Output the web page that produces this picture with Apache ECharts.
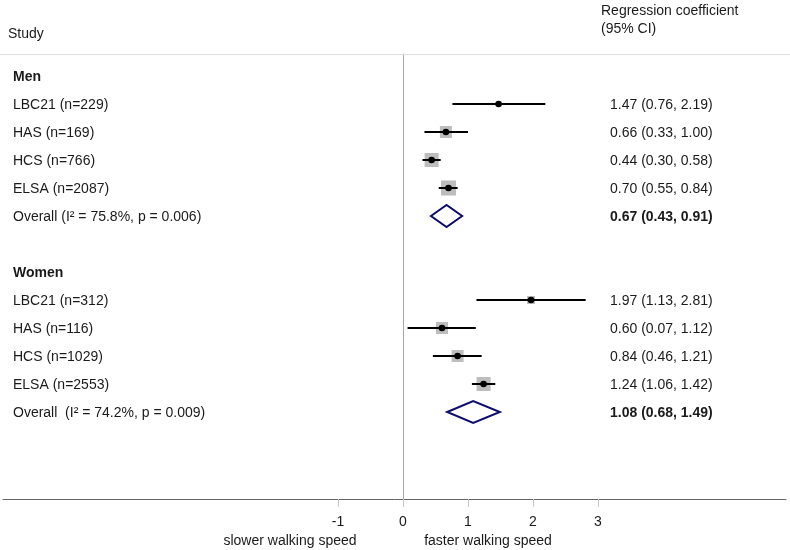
<!DOCTYPE html>
<html>
<head>
<meta charset="utf-8">
<script src="https://cdn.jsdelivr.net/npm/echarts@6/dist/echarts.min.js"></script>
<style>
html,body{margin:0;padding:0;background:#fff;}
#chart{width:790px;height:550px;}
</style>
</head>
<body>
<div id="chart"></div>
<script>
// ---- data ----
const groups = ['Men', 'Women'];
const menStudies = ['LBC21 (n=229)', 'HAS (n=169)', 'HCS (n=766)', 'ELSA (n=2087)'];
const menEst = [1.47, 0.66, 0.44, 0.70];
const menLo = [0.76, 0.33, 0.30, 0.55];
const menHi = [2.19, 1.00, 0.58, 0.84];
const menWeight = [3, 19, 26, 30];
const menOverallLabel = 'Overall (I\u00b2 = 75.8%, p = 0.006)';
const menOverall = [0.67, 0.43, 0.91];

const womenStudies = ['LBC21 (n=312)', 'HAS (n=116)', 'HCS (n=1029)', 'ELSA (n=2553)'];
const womenEst = [1.97, 0.60, 0.84, 1.24];
const womenLo = [1.13, 0.07, 0.46, 1.06];
const womenHi = [2.81, 1.12, 1.21, 1.42];
const womenWeight = [8.5, 19, 19, 26];
const womenOverallLabel = 'Overall  (I\u00b2 = 74.2%, p = 0.009)';
const womenOverall = [1.08, 0.68, 1.49];

const xTicks = [-1, 0, 1, 2, 3];

// ---- build rows ----
const studyData = [];   // [est, lo, hi, row, weight]
const overallData = []; // [est, lo, hi, row]
const textRows = [];    // {row, left, right, bold}
let row = 0;
function addGroup(name, studies, est, lo, hi, w, ovLabel, ov) {
  textRows.push({row: row, left: name, right: '', bold: true});
  row++;
  for (let i = 0; i < studies.length; i++) {
    studyData.push([est[i], lo[i], hi[i], row, w[i]]);
    textRows.push({row: row, left: studies[i],
      right: est[i].toFixed(2) + ' (' + lo[i].toFixed(2) + ', ' + hi[i].toFixed(2) + ')', bold: false});
    row++;
  }
  overallData.push([ov[0], ov[1], ov[2], row]);
  textRows.push({row: row, left: ovLabel,
    right: ov[0].toFixed(2) + ' (' + ov[1].toFixed(2) + ', ' + ov[2].toFixed(2) + ')', bold: 'right'});
  row += 2;
}
addGroup(groups[0], menStudies, menEst, menLo, menHi, menWeight, menOverallLabel, menOverall);
addGroup(groups[1], womenStudies, womenEst, womenLo, womenHi, womenWeight, womenOverallLabel, womenOverall);

const FONT = 'Liberation Sans, Arial, sans-serif';
const TXT = '#1a1a1a';
const chart = echarts.init(document.getElementById('chart'));

chart.setOption({
  animation: false,
  backgroundColor: '#ffffff',
  grid: {left: 3, right: 4, top: 54, bottom: 51},
  xAxis: {
    type: 'value',
    min: -400 / 65,
    max: 383 / 65,
    splitLine: {show: false},
    axisLine: {show: true, onZero: false, lineStyle: {color: '#666666', width: 1}},
    axisTick: {show: true, customValues: xTicks, length: 8, lineStyle: {color: '#c8c8c8'}},
    axisLabel: {show: true, customValues: xTicks, margin: 16, fontSize: 14, color: TXT, fontFamily: FONT}
  },
  yAxis: {
    type: 'value',
    inverse: true,
    min: -22 / 28,
    max: 423 / 28,
    splitLine: {show: false},
    axisTick: {show: false},
    axisLabel: {show: false},
    axisLine: {show: true, onZero: true, lineStyle: {color: '#a8a8a8', width: 1}}
  },
  graphic: [
    {type: 'line', shape: {x1: 0, y1: 54.5, x2: 790, y2: 54.5}, style: {stroke: '#e0e0e0', lineWidth: 1}, z: 1},
    {type: 'text', x: 8, y: 34, style: {text: 'Study', font: '14px ' + FONT, fill: TXT, verticalAlign: 'middle'}},
    {type: 'text', x: 601, y: 11, style: {text: 'Regression coefficient', font: '14px ' + FONT, fill: TXT, verticalAlign: 'middle'}},
    {type: 'text', x: 601, y: 29, style: {text: '(95% CI)', font: '14px ' + FONT, fill: TXT, verticalAlign: 'middle'}},
    {type: 'text', x: 290, y: 541, style: {text: 'slower walking speed', font: '14px ' + FONT, fill: TXT, align: 'center', verticalAlign: 'middle'}},
    {type: 'text', x: 488, y: 541, style: {text: 'faster walking speed', font: '14px ' + FONT, fill: TXT, align: 'center', verticalAlign: 'middle'}}
  ],
  series: [
    {
      type: 'custom',
      name: 'studies',
      clip: false,
      data: studyData,
      renderItem: function (params, api) {
        const y = api.value(3);
        const pE = api.coord([api.value(0), y]);
        const pL = api.coord([api.value(1), y]);
        const pH = api.coord([api.value(2), y]);
        const s = 2.75 * Math.sqrt(api.value(4));
        return {
          type: 'group',
          children: [
            {type: 'rect', shape: {x: pE[0] - s / 2, y: pE[1] - s / 2, width: s, height: s}, style: {fill: '#bdbdbd'}},
            {type: 'line', shape: {x1: pL[0], y1: pL[1], x2: pH[0], y2: pH[1]}, style: {stroke: '#000', lineWidth: 2}},
            {type: 'circle', shape: {cx: pE[0], cy: pE[1], r: 3.3}, style: {fill: '#000'}}
          ]
        };
      }
    },
    {
      type: 'custom',
      name: 'overall',
      clip: false,
      data: overallData,
      renderItem: function (params, api) {
        const y = api.value(3);
        const pE = api.coord([api.value(0), y]);
        const pL = api.coord([api.value(1), y]);
        const pH = api.coord([api.value(2), y]);
        const h = 11;
        return {
          type: 'polygon',
          shape: {points: [[pL[0], pL[1]], [pE[0], pE[1] - h], [pH[0], pH[1]], [pE[0], pE[1] + h]]},
          style: {fill: '#ffffff', stroke: '#0d0d6b', lineWidth: 2}
        };
      }
    },
    {
      type: 'custom',
      name: 'text',
      clip: false,
      data: textRows.map(function (t) { return [0, t.row]; }),
      renderItem: function (params, api) {
        const t = textRows[params.dataIndex];
        const p = api.coord([0, api.value(1)]);
        const children = [
          {type: 'text', x: 13, y: p[1] + 1, style: {text: t.left, font: (t.bold === true ? 'bold ' : '') + '14px ' + FONT, fill: TXT, verticalAlign: 'middle'}}
        ];
        if (t.right) {
          children.push({type: 'text', x: 610, y: p[1] + 1, style: {text: t.right, font: (t.bold ? 'bold ' : '') + '14px ' + FONT, fill: TXT, verticalAlign: 'middle'}});
        }
        return {type: 'group', children: children};
      }
    }
  ]
});
</script>
</body>
</html>
